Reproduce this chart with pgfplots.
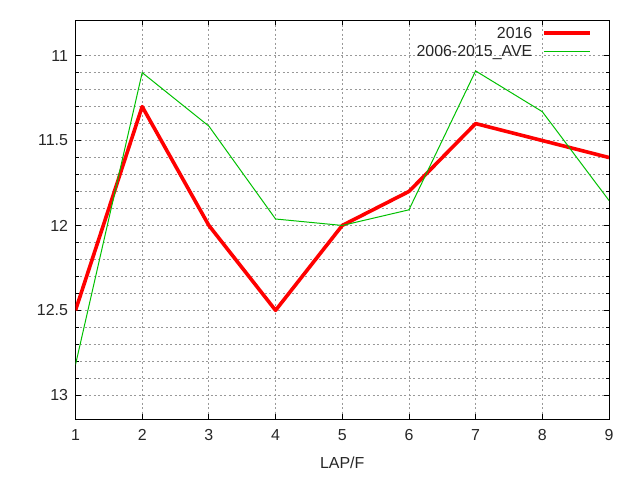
\documentclass[border=0pt]{standalone}
\usepackage{fontspec}
\setmainfont{Liberation Sans}
\usepackage{pgfplots}
\pgfplotsset{compat=1.18}

\begin{document}
\begin{tikzpicture}
  \begin{axis}[
      scale only axis,
      width=533.5bp, height=399bp,
      xmin=1, xmax=9,
      ymin=10.79, ymax=13.14,
      y dir=reverse,
      xtick={1,...,9},
      ytick={11,11.5,12,12.5,13},
      minor y tick num=4,
      tick align=inside,
      major tick length=5bp,
      minor tick length=3bp,
      xmajorgrids, ymajorgrids, yminorgrids,
      grid style={draw=black!40, line width=0.8bp, dash pattern=on 2bp off 2.5bp},
      axis line style={line width=1bp},
      every tick/.style={black, line width=0.8bp},
      tick label style={font=\fontsize{16}{19}\selectfont, text=black!85},
      /pgf/number format/assume math mode=true,
      xticklabel style={yshift=-7bp},
      yticklabel style={xshift=-4bp},
      xlabel={LAP/F},
      xlabel style={font=\fontsize{16}{19}\selectfont, text=black!85, yshift=-9bp},
      legend style={draw=none, fill=none, at={(0.974,0.993)}, anchor=north east,
        font=\fontsize{16}{19}\selectfont, text=black!85,
        row sep=2bp},
      legend cell align=right,
      legend plot pos=right,
      legend image code/.code={\path (0bp,0bp); \draw[#1] (8bp,0bp) -- (54bp,0bp);},
    ]
    \addplot[draw=red, line width=3.6bp, line join=round] coordinates {
      (1,12.5) (2,11.3) (3,12.0) (4,12.5) (5,12.0) (6,11.8) (7,11.4) (8,11.5) (9,11.6)
    };
    \addlegendentry{2016}
    \addplot[draw={rgb,255:red,0;green,192;blue,0}, line width=1bp] coordinates {
      (1,12.82) (2,11.10) (3,11.415) (4,11.962) (5,12.0) (6,11.908) (7,11.09) (8,11.33) (9,11.853)
    };
    \addlegendentry{2006-2015\_AVE}
  \end{axis}
  \path[use as bounding box] (current axis.south west) ++(-75.5bp,-61bp) rectangle ++(640bp,480bp);
\end{tikzpicture}
\end{document}
